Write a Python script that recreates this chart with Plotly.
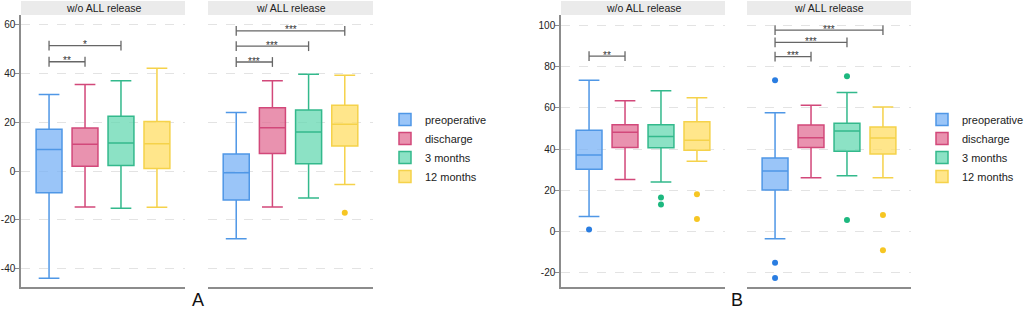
import plotly.graph_objects as go

# ---------------- data ----------------
groups = ["preoperative", "discharge", "3 months", "12 months"]
facet_titles = ["w/o ALL release", "w/ ALL release"]
panel_labels = ["A", "B"]

# Panel A, w/o ALL release
a_wo_lower = [-44.0, -14.7, -15.3, -14.9]
a_wo_q1 = [-8.9, 2.0, 2.3, 1.1]
a_wo_med = [8.9, 11.0, 11.5, 11.2]
a_wo_q3 = [17.2, 17.7, 22.5, 20.4]
a_wo_upper = [31.5, 35.6, 37.1, 42.2]
a_wo_out_g, a_wo_out_v = [], []
a_wo_sig_from = [0, 0]
a_wo_sig_to = [2, 1]
a_wo_sig_y = [51.5, 44.9]
a_wo_sig_lab = ["*", "**"]

# Panel A, w/ ALL release
a_w_lower = [-27.8, -14.7, -11.0, -5.5]
a_w_q1 = [-11.9, 7.2, 3.0, 10.3]
a_w_med = [-0.7, 17.8, 16.1, 19.2]
a_w_q3 = [7.0, 26.0, 25.1, 27.0]
a_w_upper = [24.1, 37.1, 39.8, 39.4]
a_w_out_g = [3]
a_w_out_v = [-17.1]
a_w_sig_from = [0, 0, 0]
a_w_sig_to = [3, 2, 1]
a_w_sig_y = [57.6, 51.3, 44.8]
a_w_sig_lab = ["***", "***", "***"]

# Panel B, w/o ALL release
b_wo_lower = [7.3, 25.2, 24.0, 34.1]
b_wo_q1 = [30.2, 40.8, 40.6, 39.4]
b_wo_med = [37.1, 48.1, 46.1, 44.2]
b_wo_q3 = [49.1, 51.8, 51.8, 53.2]
b_wo_upper = [73.3, 63.4, 68.2, 64.8]
b_wo_out_g = [0, 2, 2, 3, 3]
b_wo_out_v = [1.0, 16.5, 13.2, 18.1, 6.1]
b_wo_sig_from = [0]
b_wo_sig_to = [1]
b_wo_sig_y = [85.0]
b_wo_sig_lab = ["**"]

# Panel B, w/ ALL release
b_w_lower = [-3.4, 26.1, 27.1, 26.1]
b_w_q1 = [20.2, 40.8, 38.9, 37.6]
b_w_med = [29.4, 45.5, 48.7, 45.3]
b_w_q3 = [35.7, 51.6, 52.5, 50.7]
b_w_upper = [57.6, 61.2, 67.4, 60.3]
b_w_out_g = [0, 0, 0, 2, 2, 3, 3]
b_w_out_v = [73.3, -15.0, -22.4, 75.2, 5.7, 8.1, -9.0]
b_w_sig_from = [0, 0, 0]
b_w_sig_to = [3, 2, 1]
b_w_sig_y = [97.6, 91.6, 84.7]
b_w_sig_lab = ["***", "***", "***"]

a_ticks = [-40, -20, 0, 20, 40, 60]
b_ticks = [-20, 0, 20, 40, 60, 80, 100]

# ---------------- styles ----------------
FONT = "Liberation Sans, Arial, Helvetica, sans-serif"
line_cols = ["#4f97e6", "#d2487a", "#33b98c", "#f5d24a"]
fill_cols = ["rgba(120,178,245,0.75)", "rgba(226,110,148,0.75)", "rgba(102,216,178,0.75)", "rgba(255,222,100,0.75)"]
out_cols = ["#2a7de1", "#d2487a", "#1db87f", "#f6c623"]
AX_COL = "#8c8c8c"
GRID_COL = "#e3e3e3"
STRIP_COL = "#ebebeb"

W, H = 1026, 317
def px_x(p):
    return p / W
def px_y(p):
    return (H - p) / H

PLOT_TOP, PLOT_BOT = 15, 287
STRIP_TOP = 1

facets = [
    ("x", "y", "legend", True, a_wo_lower, a_wo_q1, a_wo_med, a_wo_q3, a_wo_upper,
     a_wo_out_g, a_wo_out_v, a_wo_sig_from, a_wo_sig_to, a_wo_sig_y, a_wo_sig_lab),
    ("x2", "y", "legend", False, a_w_lower, a_w_q1, a_w_med, a_w_q3, a_w_upper,
     a_w_out_g, a_w_out_v, a_w_sig_from, a_w_sig_to, a_w_sig_y, a_w_sig_lab),
    ("x3", "y2", "legend2", True, b_wo_lower, b_wo_q1, b_wo_med, b_wo_q3, b_wo_upper,
     b_wo_out_g, b_wo_out_v, b_wo_sig_from, b_wo_sig_to, b_wo_sig_y, b_wo_sig_lab),
    ("x4", "y2", "legend2", False, b_w_lower, b_w_q1, b_w_med, b_w_q3, b_w_upper,
     b_w_out_g, b_w_out_v, b_w_sig_from, b_w_sig_to, b_w_sig_y, b_w_sig_lab),
]

fig = go.Figure()
annotations = []
for (xa, ya, leg, showleg, lo, q1, med, q3, up, og, ov, sf, st, sy, sl) in facets:
    for i, g in enumerate(groups):
        fig.add_trace(go.Box(
            x=[i], q1=[q1[i]], median=[med[i]], q3=[q3[i]],
            lowerfence=[lo[i]], upperfence=[up[i]],
            width=0.72, whiskerwidth=0.8, boxpoints=False,
            fillcolor=fill_cols[i], line=dict(color=line_cols[i], width=1.5),
            name=g, legendgroup=g + leg, showlegend=showleg, legend=leg,
            xaxis=xa, yaxis=ya, hoverinfo="skip",
        ))
    if og:
        fig.add_trace(go.Scatter(
            x=og, y=ov, mode="markers",
            marker=dict(color=[out_cols[k] for k in og], size=6),
            showlegend=False, xaxis=xa, yaxis=ya, hoverinfo="skip",
        ))
    for s, e, h, lab in zip(sf, st, sy, sl):
        fig.add_trace(go.Scatter(
            x=[s, e], y=[h, h], mode="lines+markers",
            line=dict(color="#666666", width=1.3),
            marker=dict(symbol="line-ns-open", size=7, line=dict(color="#666666", width=1.3)),
            showlegend=False, xaxis=xa, yaxis=ya, hoverinfo="skip",
        ))
        annotations.append(dict(
            x=(s + e) / 2, y=h, xref=xa, yref=ya, text=lab, showarrow=False,
            yanchor="middle", yshift=1, font=dict(size=10, color="#333333", family=FONT),
        ))

x_domains = [(21, 185), (208, 373), (561, 725), (747, 911)]
xr = [-0.78, 3.78]
xaxis_common = dict(range=xr, showline=True, linecolor=AX_COL, linewidth=1.5,
                    showticklabels=False, ticks="", showgrid=False, zeroline=False,
                    fixedrange=True, automargin=False)
layout_axes = {}
for k, (d0, d1) in enumerate(x_domains):
    name = "xaxis" if k == 0 else f"xaxis{k + 1}"
    layout_axes[name] = dict(xaxis_common, domain=[px_x(d0), px_x(d1)],
                             anchor="y" if k < 2 else "y2")

yaxis_common = dict(showline=True, linecolor=AX_COL, linewidth=1.5, ticks="outside",
                    ticklen=4, tickcolor=AX_COL, tickwidth=1.2, showgrid=True,
                    gridcolor=GRID_COL, griddash="dash", gridwidth=1, zeroline=False,
                    tickfont=dict(size=10, color="#222222", family=FONT),
                    ticklabelstandoff=-2,
                    domain=[px_y(PLOT_BOT), px_y(PLOT_TOP)], fixedrange=True,
                    automargin=False)
layout_axes["yaxis"] = dict(yaxis_common, range=[-47.6, 64.1], tickvals=a_ticks,
                            ticktext=[str(v) for v in a_ticks], anchor="x")
layout_axes["yaxis2"] = dict(yaxis_common, range=[-26.8, 104.9], tickvals=b_ticks,
                             ticktext=[str(v) for v in b_ticks], anchor="x3")

shapes = []
xa_names = ["x", "x2", "x3", "x4"]
for k, xa in enumerate(xa_names):
    shapes.append(dict(type="rect", xref=f"{xa} domain", yref="paper",
                       x0=0, x1=1, y0=px_y(PLOT_TOP), y1=px_y(STRIP_TOP),
                       fillcolor=STRIP_COL, line=dict(width=0), layer="below"))
    annotations.append(dict(xref=f"{xa} domain", yref="paper", x=0.5,
                            y=(px_y(PLOT_TOP) + px_y(STRIP_TOP)) / 2,
                            text=facet_titles[k % 2], showarrow=False,
                            xanchor="center", yanchor="middle",
                            font=dict(size=10.5, color="#222222", family=FONT)))

for lab, xp in zip(panel_labels, [198, 737]):
    annotations.append(dict(xref="paper", yref="paper", x=px_x(xp), y=px_y(300),
                            text=lab, showarrow=False, xanchor="center", yanchor="middle",
                            font=dict(size=18, color="#111111", family=FONT)))

legend_common = dict(bgcolor="rgba(0,0,0,0)", font=dict(size=11, color="#222222", family=FONT),
                     xanchor="left", yanchor="middle", y=px_y(148), tracegroupgap=0,
                     itemclick=False, itemdoubleclick=False)

fig.update_layout(
    width=W, height=H, margin=dict(l=0, r=0, t=0, b=0, autoexpand=False),
    paper_bgcolor="white", plot_bgcolor="white",
    font=dict(family=FONT, size=11, color="#222222"),
    shapes=shapes, annotations=annotations,
    legend=dict(legend_common, x=px_x(385)),
    legend2=dict(legend_common, x=px_x(922)),
    **layout_axes,
)

fig.write_html("out.html", config={"displayModeBar": False},
               post_script="document.body.style.margin='0px';")
